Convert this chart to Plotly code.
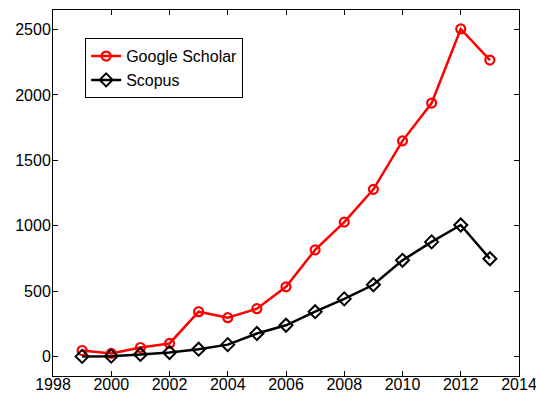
import plotly.graph_objects as go

years = [1999, 2000, 2001, 2002, 2003, 2004, 2005, 2006, 2007, 2008, 2009, 2010, 2011, 2012, 2013]
google_scholar = [45, 23, 68, 99, 342, 296, 365, 532, 815, 1027, 1278, 1649, 1938, 2505, 2267]
scopus = [0, 2, 15, 30, 55, 90, 175, 238, 342, 440, 548, 735, 876, 1005, 747]
x_ticks = [1998, 2000, 2002, 2004, 2006, 2008, 2010, 2012, 2014]
y_ticks = [0, 500, 1000, 1500, 2000, 2500]

fig = go.Figure()
fig.add_trace(go.Scatter(
    x=years, y=google_scholar, name="Google Scholar", mode="lines+markers",
    line=dict(color="#ff0000", width=2.5),
    marker=dict(symbol="circle-open", size=9, color="#ff0000", line=dict(width=2.2, color="#ff0000")),
))
fig.add_trace(go.Scatter(
    x=years, y=scopus, name="Scopus", mode="lines+markers",
    line=dict(color="#000000", width=2.5),
    marker=dict(symbol="diamond-open", size=10, color="#000000", line=dict(width=2, color="#000000")),
))

axis_common = dict(
    showgrid=False, zeroline=False, showline=True, linecolor="black", linewidth=1,
    mirror="allticks", ticks="inside", ticklen=5, tickcolor="black", automargin=False,
    ticklabeloverflow="allow",
    tickfont=dict(family="Liberation Sans, Arial", size=16, color="black"),
)
fig.update_xaxes(range=[1998, 2014], tickvals=x_ticks, ticktext=[str(t) for t in x_ticks],
                 ticklabelstandoff=-6, **axis_common)
fig.update_yaxes(range=[-150, 2650], tickvals=y_ticks, ticktext=[str(t) for t in y_ticks],
                 ticklabelstandoff=-2, **axis_common)

fig.update_layout(
    template="none",
    width=536, height=400,
    margin=dict(l=53, r=17, t=10, b=24),
    paper_bgcolor="white", plot_bgcolor="white",
    font=dict(family="Liberation Sans, Arial", size=16, color="black"),
    legend=dict(
        x=0.069, y=0.923, xanchor="left", yanchor="top",
        bgcolor="white", bordercolor="black", borderwidth=1,
        font=dict(size=16), tracegroupgap=0, itemwidth=30,
    ),
    showlegend=True,
)

fig.write_html("out.html", config={"displayModeBar": False},
               post_script="document.body.style.margin='0';document.body.style.overflow='hidden';")
